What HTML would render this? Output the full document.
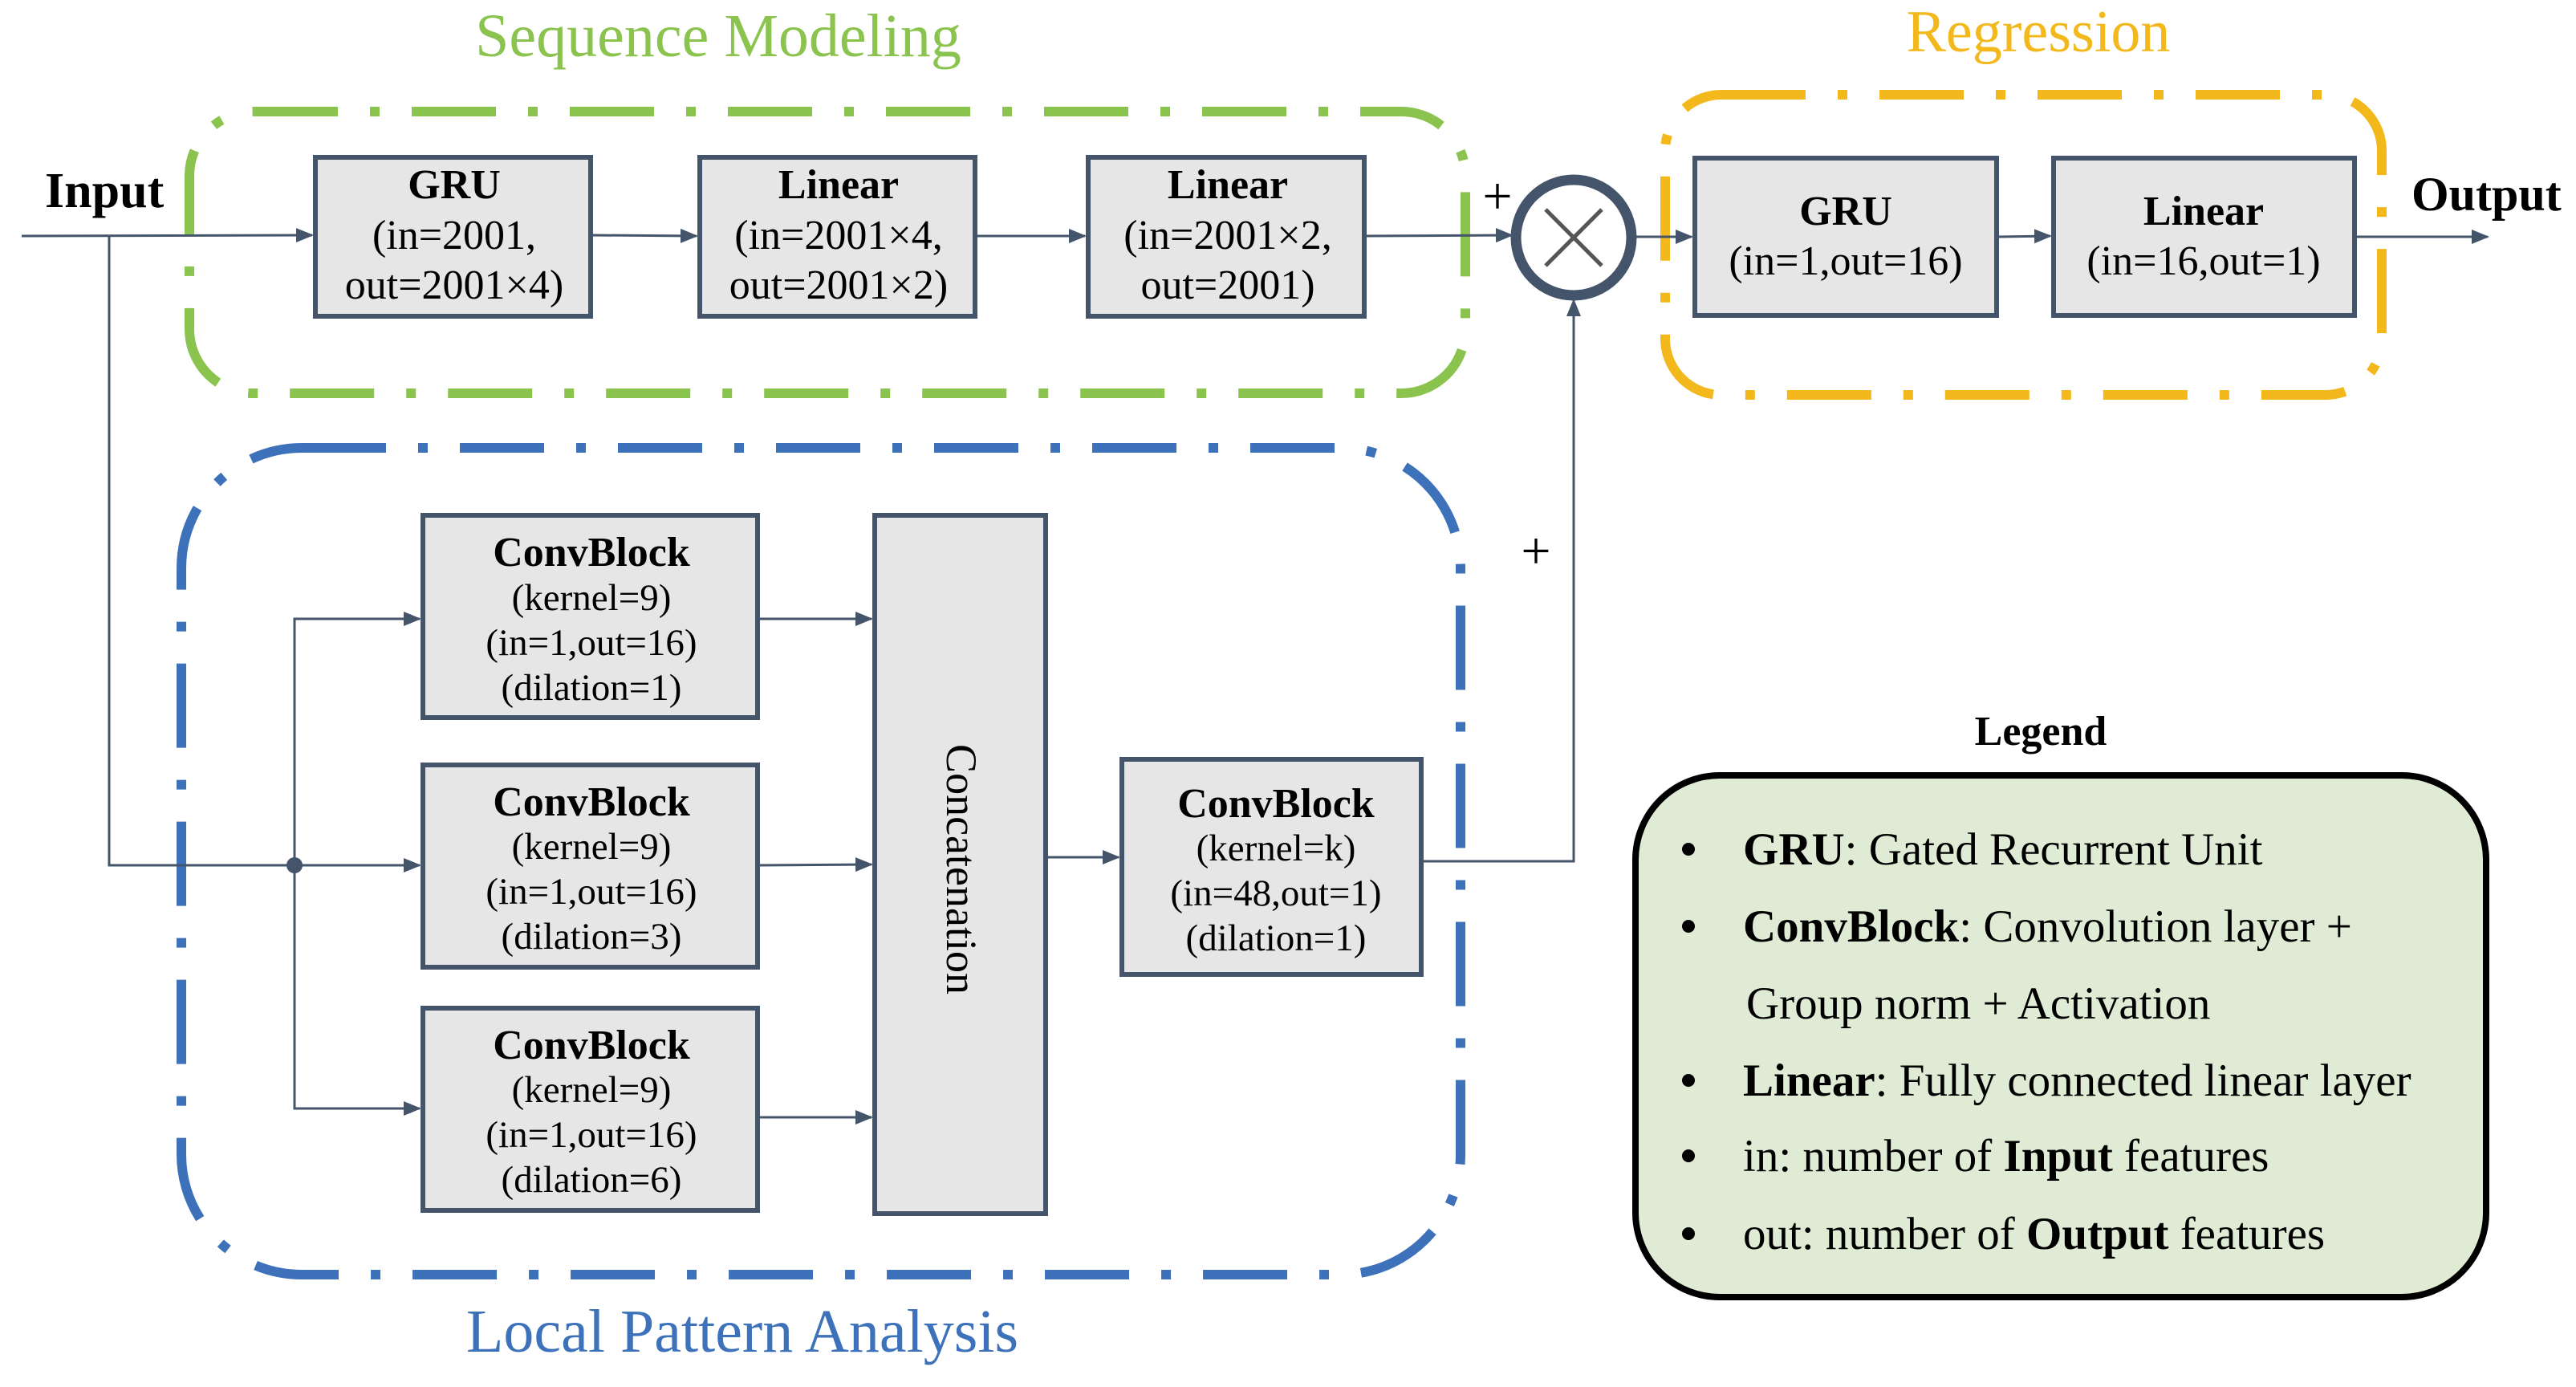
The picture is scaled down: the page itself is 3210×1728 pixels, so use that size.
<!DOCTYPE html>
<html><head><meta charset="utf-8"><style>
html,body{margin:0;padding:0;background:#fff;}
svg{display:block;}
text{font-family:"Liberation Serif",serif;}
</style></head><body>
<svg width="3210" height="1728" viewBox="0 0 3210 1728" xmlns="http://www.w3.org/2000/svg">
<defs>
<marker id="ahb" markerWidth="22" markerHeight="22" refX="20" refY="11" orient="auto" markerUnits="userSpaceOnUse" viewBox="0 0 22 22">
<path d="M0,2 L22,11 L0,20 z" fill="#44546a"/></marker>
</defs>

<rect x="236" y="139" width="1590" height="351" rx="80" fill="none" stroke="#8bc34f" stroke-width="12" stroke-dasharray="105 40 12 40"/>
<rect x="226" y="558" width="1594" height="1030" rx="150" fill="none" stroke="#3d72ba" stroke-width="12" stroke-dasharray="105 40 12 40"/>
<rect x="2075" y="118" width="893" height="374" rx="70" fill="none" stroke="#f2b81c" stroke-width="12" stroke-dasharray="105 40 12 40"/>

<text x="895" y="70" font-size="76" fill="#8bc34f" text-anchor="middle">Sequence Modeling</text>
<text x="2540" y="64" font-size="74" fill="#f2b81c" text-anchor="middle">Regression</text>
<text x="925" y="1684" font-size="76" fill="#3d72ba" text-anchor="middle">Local Pattern Analysis</text>

<g stroke="#44546a" stroke-width="3" fill="none">
<line x1="27" y1="294" x2="389" y2="293" marker-end="url(#ahb)"/>
<line x1="738" y1="293" x2="868" y2="294" marker-end="url(#ahb)"/>
<line x1="1217" y1="294" x2="1352" y2="294" marker-end="url(#ahb)"/>
<line x1="1702" y1="294" x2="1884" y2="293" marker-end="url(#ahb)"/>
<line x1="2038" y1="295" x2="2108" y2="295" marker-end="url(#ahb)"/>
<line x1="2490" y1="295" x2="2555" y2="294" marker-end="url(#ahb)"/>
<line x1="2936" y1="295" x2="3100" y2="295" marker-end="url(#ahb)"/>
<polyline points="136,294 136,1078 523,1078" marker-end="url(#ahb)"/>
<polyline points="367,1078 367,771 523,771" marker-end="url(#ahb)"/>
<polyline points="367,1078 367,1381 523,1381" marker-end="url(#ahb)"/>
<line x1="946" y1="771" x2="1086" y2="771" marker-end="url(#ahb)"/>
<line x1="946" y1="1078" x2="1086" y2="1077" marker-end="url(#ahb)"/>
<line x1="946" y1="1392" x2="1086" y2="1392" marker-end="url(#ahb)"/>
<line x1="1305" y1="1068" x2="1394" y2="1068" marker-end="url(#ahb)"/>
<polyline points="1773,1073 1961,1073 1961,374" marker-end="url(#ahb)"/>
</g>
<circle cx="367" cy="1078" r="10" fill="#44546a"/>

<circle cx="1961" cy="296" r="72" fill="#fff" stroke="#44546a" stroke-width="13"/>
<line x1="1926" y1="261" x2="1996" y2="331" stroke="#555" stroke-width="5"/>
<line x1="1996" y1="261" x2="1926" y2="331" stroke="#555" stroke-width="5"/>
<text x="1866" y="266" font-size="66" text-anchor="middle">+</text>
<text x="1914" y="708" font-size="66" text-anchor="middle">+</text>

<text x="56" y="258" font-size="62" font-weight="bold">Input</text>
<text x="3005" y="262" font-size="60" font-weight="bold">Output</text>

<g fill="#e7e6e6" stroke="#44546a" stroke-width="6">
<rect x="393" y="196" width="343" height="198"/>
<rect x="872" y="196" width="343" height="198"/>
<rect x="1356" y="196" width="344" height="198"/>
<rect x="2112" y="197" width="376" height="196"/>
<rect x="2559" y="197" width="375" height="196"/>
<rect x="527" y="642" width="417" height="252"/>
<rect x="527" y="953" width="417" height="252"/>
<rect x="527" y="1256" width="417" height="252"/>
<rect x="1090" y="642" width="213" height="870"/>
<rect x="1398" y="946" width="373" height="268"/>
</g>

<g font-size="52" text-anchor="middle">
<text x="566" y="247" font-weight="bold">GRU</text>
<text x="566" y="310">(in=2001,</text>
<text x="566" y="372">out=2001×4)</text>
<text x="1045" y="247" font-weight="bold">Linear</text>
<text x="1045" y="310">(in=2001×4,</text>
<text x="1045" y="372">out=2001×2)</text>
<text x="1530" y="247" font-weight="bold">Linear</text>
<text x="1530" y="310">(in=2001×2,</text>
<text x="1530" y="372">out=2001)</text>
<text x="2300" y="280" font-weight="bold">GRU</text>
<text x="2300" y="342">(in=1,out=16)</text>
<text x="2746" y="280" font-weight="bold">Linear</text>
<text x="2746" y="342">(in=16,out=1)</text>
</g>

<g text-anchor="middle" font-size="47">
<g font-size="52" font-weight="bold">
<text x="737" y="705">ConvBlock</text>
<text x="737" y="1016">ConvBlock</text>
<text x="737" y="1319">ConvBlock</text>
<text x="1590" y="1018">ConvBlock</text>
</g>
<text x="737" y="760">(kernel=9)</text>
<text x="737" y="816">(in=1,out=16)</text>
<text x="737" y="872">(dilation=1)</text>
<text x="737" y="1070">(kernel=9)</text>
<text x="737" y="1126">(in=1,out=16)</text>
<text x="737" y="1182">(dilation=3)</text>
<text x="737" y="1373">(kernel=9)</text>
<text x="737" y="1429">(in=1,out=16)</text>
<text x="737" y="1485">(dilation=6)</text>
<text x="1590" y="1072">(kernel=k)</text>
<text x="1590" y="1128">(in=48,out=1)</text>
<text x="1590" y="1184">(dilation=1)</text>
</g>
<text transform="translate(1180,1083) rotate(90)" font-size="54" text-anchor="middle">Concatenation</text>

<text x="2543" y="928" font-size="52" font-weight="bold" text-anchor="middle">Legend</text>
<rect x="2038" y="966" width="1060" height="650" rx="105" fill="#e0ebd5" stroke="#000" stroke-width="8"/>
<g font-size="57">
<g fill="#000">
<circle cx="2104" cy="1058" r="8"/><circle cx="2104" cy="1154" r="8"/>
<circle cx="2104" cy="1346" r="8"/><circle cx="2104" cy="1440" r="8"/><circle cx="2104" cy="1537" r="8"/>
</g>
<text x="2172" y="1077"><tspan font-weight="bold">GRU</tspan>:  Gated Recurrent Unit</text>
<text x="2172" y="1173"><tspan font-weight="bold">ConvBlock</tspan>:  Convolution layer +</text>
<text x="2176" y="1269">Group norm + Activation</text>
<text x="2172" y="1365"><tspan font-weight="bold">Linear</tspan>:  Fully connected linear layer</text>
<text x="2172" y="1459">in:  number of <tspan font-weight="bold">Input</tspan> features</text>
<text x="2172" y="1556">out:   number of <tspan font-weight="bold">Output</tspan> features</text>
</g>
</svg>
</body></html>
